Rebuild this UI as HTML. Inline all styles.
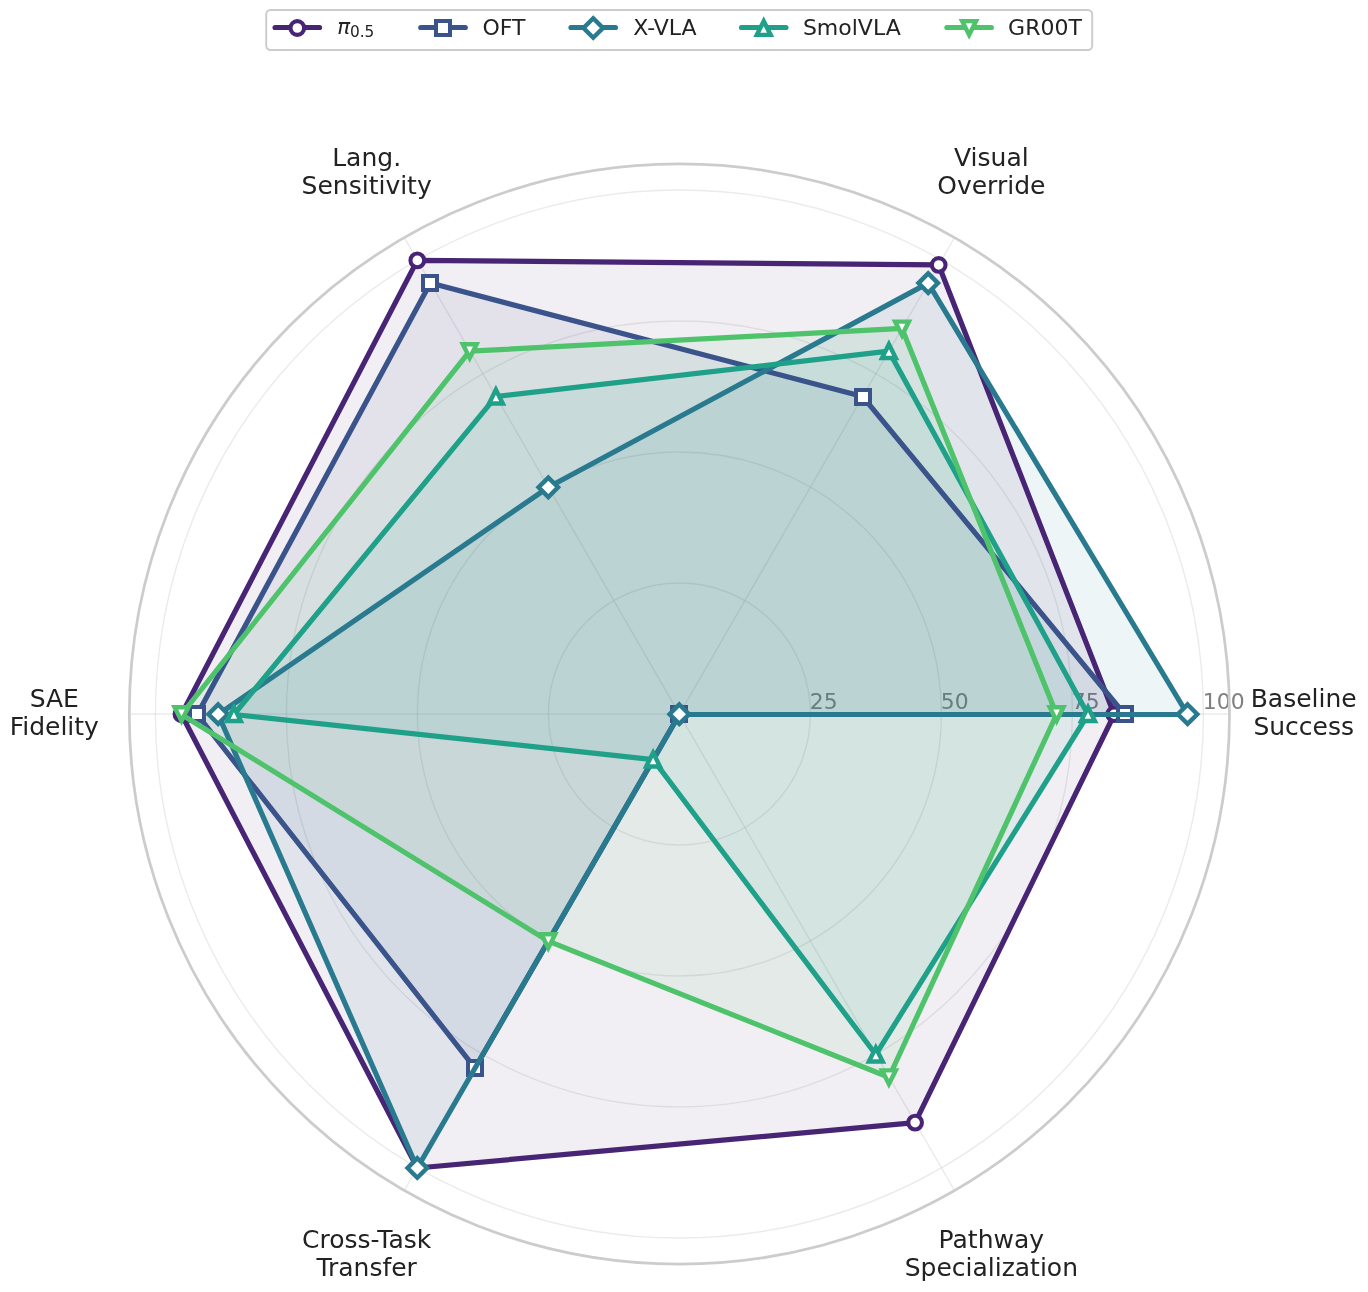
<!DOCTYPE html>
<html lang="en"><head><meta charset="utf-8"><title>VLA radar comparison</title>
<style>html,body{margin:0;padding:0;background:#fff}body{width:1368px;height:1292px;overflow:hidden}svg{display:block}text{font-family:"DejaVu Sans","Liberation Sans",sans-serif}</style></head><body>
<svg width="1368" height="1292" viewBox="0 0 1368 1292">
<rect width="1368" height="1292" fill="#fff"/>
<g stroke="#cccccc" stroke-opacity="0.4" stroke-width="1.4" fill="none">
<circle cx="679.4" cy="714.05" r="131"/>
<circle cx="679.4" cy="714.05" r="262"/>
<circle cx="679.4" cy="714.05" r="393"/>
<circle cx="679.4" cy="714.05" r="524"/>
<line x1="679.4" y1="714.05" x2="1229.5" y2="714.05"/>
<line x1="679.4" y1="714.05" x2="954.45" y2="237.65"/>
<line x1="679.4" y1="714.05" x2="404.35" y2="237.65"/>
<line x1="679.4" y1="714.05" x2="129.3" y2="714.05"/>
<line x1="679.4" y1="714.05" x2="404.35" y2="1190.45"/>
<line x1="679.4" y1="714.05" x2="954.45" y2="1190.45"/>
</g>
<g font-size="21.9" fill="#808080">
<text x="809.8" y="708.9">25</text>
<text x="940.8" y="708.9">50</text>
<text x="1071.8" y="708.9">75</text>
<text x="1202.8" y="708.9">100</text>
</g>
<circle cx="679.4" cy="714.05" r="550.1" fill="none" stroke="#cccccc" stroke-width="2.75"/>
<polygon points="1114.22,714.2 938.68,264.94 417.3,260.4 181.5,714.2 417.3,1168 915.1,1122.62" fill="#482475" fill-opacity="0.08"/>
<polygon points="1124.7,714.2 862.7,396.54 430.4,283.09 197.22,714.2 474.94,1068.16 679.3,714.2" fill="#3a538b" fill-opacity="0.08"/>
<polygon points="1187.58,714.2 928.2,283.09 548.3,487.3 218.18,714.2 417.3,1168 679.3,714.2" fill="#297a8e" fill-opacity="0.08"/>
<polygon points="1088.02,714.2 888.9,351.16 495.9,396.54 233.9,714.2 653.1,759.58 875.8,1054.55" fill="#1fa088" fill-opacity="0.08"/>
<polygon points="1056.58,714.2 902,328.47 469.7,351.16 181.5,714.2 548.3,941.1 888.9,1077.24" fill="#4ec36b" fill-opacity="0.08"/>
<polygon points="1114.22,714.5 938.68,264.94 417.3,260.4 181.5,714.5 417.3,1168 915.1,1122.62" fill="none" stroke="#482475" stroke-width="5.2" stroke-linejoin="round"/>
<circle cx="1114.22" cy="714.2" r="6.85" fill="#fff" stroke="#482475" stroke-width="4.1"/>
<circle cx="938.68" cy="264.94" r="6.85" fill="#fff" stroke="#482475" stroke-width="4.1"/>
<circle cx="417.3" cy="260.4" r="6.85" fill="#fff" stroke="#482475" stroke-width="4.1"/>
<circle cx="181.5" cy="714.2" r="6.85" fill="#fff" stroke="#482475" stroke-width="4.1"/>
<circle cx="417.3" cy="1168" r="6.85" fill="#fff" stroke="#482475" stroke-width="4.1"/>
<circle cx="915.1" cy="1122.62" r="6.85" fill="#fff" stroke="#482475" stroke-width="4.1"/>
<polygon points="1124.7,714.5 862.7,396.54 430.4,283.09 197.22,714.5 474.94,1068.16 679.3,714.5" fill="none" stroke="#3a538b" stroke-width="5.2" stroke-linejoin="round"/>
<rect x="1118" y="707" width="14" height="14" fill="#fff" stroke="#3a538b" stroke-width="4"/>
<rect x="856" y="390" width="14" height="14" fill="#fff" stroke="#3a538b" stroke-width="4"/>
<rect x="423" y="276" width="14" height="14" fill="#fff" stroke="#3a538b" stroke-width="4"/>
<rect x="190" y="707" width="14" height="14" fill="#fff" stroke="#3a538b" stroke-width="4"/>
<rect x="468" y="1061" width="14" height="14" fill="#fff" stroke="#3a538b" stroke-width="4"/>
<rect x="672" y="707" width="14" height="14" fill="#fff" stroke="#3a538b" stroke-width="4"/>
<polygon points="1187.58,714.5 928.2,283.09 548.3,487.3 218.18,714.5 417.3,1168 679.3,714.5" fill="none" stroke="#297a8e" stroke-width="5.2" stroke-linejoin="round"/>
<polygon points="1187.58,704.48 1197.3,714.2 1187.58,723.92 1177.86,714.2" fill="#fff" stroke="#297a8e" stroke-width="4.45" stroke-linejoin="miter"/>
<polygon points="928.2,273.37 937.92,283.09 928.2,292.82 918.48,283.09" fill="#fff" stroke="#297a8e" stroke-width="4.45" stroke-linejoin="miter"/>
<polygon points="548.3,477.58 558.02,487.3 548.3,497.02 538.58,487.3" fill="#fff" stroke="#297a8e" stroke-width="4.45" stroke-linejoin="miter"/>
<polygon points="218.18,704.48 227.9,714.2 218.18,723.92 208.46,714.2" fill="#fff" stroke="#297a8e" stroke-width="4.45" stroke-linejoin="miter"/>
<polygon points="417.3,1158.27 427.02,1168 417.3,1177.72 407.58,1168" fill="#fff" stroke="#297a8e" stroke-width="4.45" stroke-linejoin="miter"/>
<polygon points="679.3,704.48 689.02,714.2 679.3,723.92 669.58,714.2" fill="#fff" stroke="#297a8e" stroke-width="4.45" stroke-linejoin="miter"/>
<polygon points="1088.02,714.5 888.9,351.16 495.9,396.54 233.9,714.5 653.1,759.58 875.8,1054.55" fill="none" stroke="#1fa088" stroke-width="5.2" stroke-linejoin="round"/>
<polygon points="1088.02,707.33 1081.14,721.08 1094.89,721.08" fill="#fff" stroke="#1fa088" stroke-width="4.45" stroke-linejoin="miter"/>
<polygon points="888.9,344.29 882.03,358.04 895.78,358.04" fill="#fff" stroke="#1fa088" stroke-width="4.45" stroke-linejoin="miter"/>
<polygon points="495.9,389.67 489.03,403.42 502.78,403.42" fill="#fff" stroke="#1fa088" stroke-width="4.45" stroke-linejoin="miter"/>
<polygon points="233.9,707.33 227.02,721.08 240.77,721.08" fill="#fff" stroke="#1fa088" stroke-width="4.45" stroke-linejoin="miter"/>
<polygon points="653.1,752.7 646.22,766.45 659.97,766.45" fill="#fff" stroke="#1fa088" stroke-width="4.45" stroke-linejoin="miter"/>
<polygon points="875.8,1047.67 868.92,1061.42 882.67,1061.42" fill="#fff" stroke="#1fa088" stroke-width="4.45" stroke-linejoin="miter"/>
<polygon points="1056.58,714.5 902,328.47 469.7,351.16 181.5,714.5 548.3,941.1 888.9,1077.24" fill="none" stroke="#4ec36b" stroke-width="5.2" stroke-linejoin="round"/>
<polygon points="1056.58,721.08 1049.7,707.33 1063.45,707.33" fill="#fff" stroke="#4ec36b" stroke-width="4.45" stroke-linejoin="miter"/>
<polygon points="902,335.35 895.12,321.6 908.88,321.6" fill="#fff" stroke="#4ec36b" stroke-width="4.45" stroke-linejoin="miter"/>
<polygon points="469.7,358.04 462.83,344.29 476.58,344.29" fill="#fff" stroke="#4ec36b" stroke-width="4.45" stroke-linejoin="miter"/>
<polygon points="181.5,721.07 174.62,707.32 188.37,707.32" fill="#fff" stroke="#4ec36b" stroke-width="4.45" stroke-linejoin="miter"/>
<polygon points="548.3,947.97 541.42,934.22 555.17,934.22" fill="#fff" stroke="#4ec36b" stroke-width="4.45" stroke-linejoin="miter"/>
<polygon points="888.9,1084.11 882.03,1070.36 895.78,1070.36" fill="#fff" stroke="#4ec36b" stroke-width="4.45" stroke-linejoin="miter"/>
<g font-size="25" fill="#222222" text-anchor="middle">
<text x="1303.7" y="707">Baseline</text>
<text x="1303.7" y="734.9">Success</text>
<text x="991.35" y="165.99">Visual</text>
<text x="991.35" y="193.89">Override</text>
<text x="366.65" y="165.99">Lang.</text>
<text x="366.65" y="193.89">Sensitivity</text>
<text x="54.3" y="707">SAE</text>
<text x="54.3" y="734.9">Fidelity</text>
<text x="366.65" y="1248.01">Cross-Task</text>
<text x="366.65" y="1275.91">Transfer</text>
<text x="991.35" y="1248.01">Pathway</text>
<text x="991.35" y="1275.91">Specialization</text>
</g>
<rect x="266.2" y="10" width="826" height="40" rx="4.4" ry="4.4" fill="#fff" stroke="#cccccc" stroke-width="1.95"/>
<g font-size="22" fill="#222222">
<line x1="275.1" y1="27.5" x2="319.54" y2="27.5" stroke="#482475" stroke-width="5.2" stroke-linecap="round"/>
<circle cx="297.32" cy="28" r="6.85" fill="#fff" stroke="#482475" stroke-width="4.1"/>
<text x="337.3" y="33.8"><tspan font-style="italic" font-size="21.4">π</tspan><tspan x="350.0" font-size="15.3" dy="2.7">0.5</tspan></text>
<line x1="420.8" y1="27.5" x2="465.24" y2="27.5" stroke="#3a538b" stroke-width="5.2" stroke-linecap="round"/>
<rect x="436" y="21" width="14" height="14" fill="#fff" stroke="#3a538b" stroke-width="4"/>
<text x="482.5" y="35.0">OFT</text>
<line x1="571" y1="27.5" x2="615.44" y2="27.5" stroke="#297a8e" stroke-width="5.2" stroke-linecap="round"/>
<polygon points="593.22,18.28 602.94,28 593.22,37.72 583.5,28" fill="#fff" stroke="#297a8e" stroke-width="4.45" stroke-linejoin="miter"/>
<text x="633.2" y="35.0">X-VLA</text>
<line x1="741.5" y1="27.5" x2="785.94" y2="27.5" stroke="#1fa088" stroke-width="5.2" stroke-linecap="round"/>
<polygon points="763.72,21.12 756.85,34.88 770.6,34.88" fill="#fff" stroke="#1fa088" stroke-width="4.45" stroke-linejoin="miter"/>
<text x="802.9" y="35.0">SmolVLA</text>
<line x1="946.9" y1="27.5" x2="991.34" y2="27.5" stroke="#4ec36b" stroke-width="5.2" stroke-linecap="round"/>
<polygon points="969.12,34.88 962.25,21.12 976,21.12" fill="#fff" stroke="#4ec36b" stroke-width="4.45" stroke-linejoin="miter"/>
<text x="1008.1" y="35.0">GR00T</text>
</g>
</svg></body></html>
